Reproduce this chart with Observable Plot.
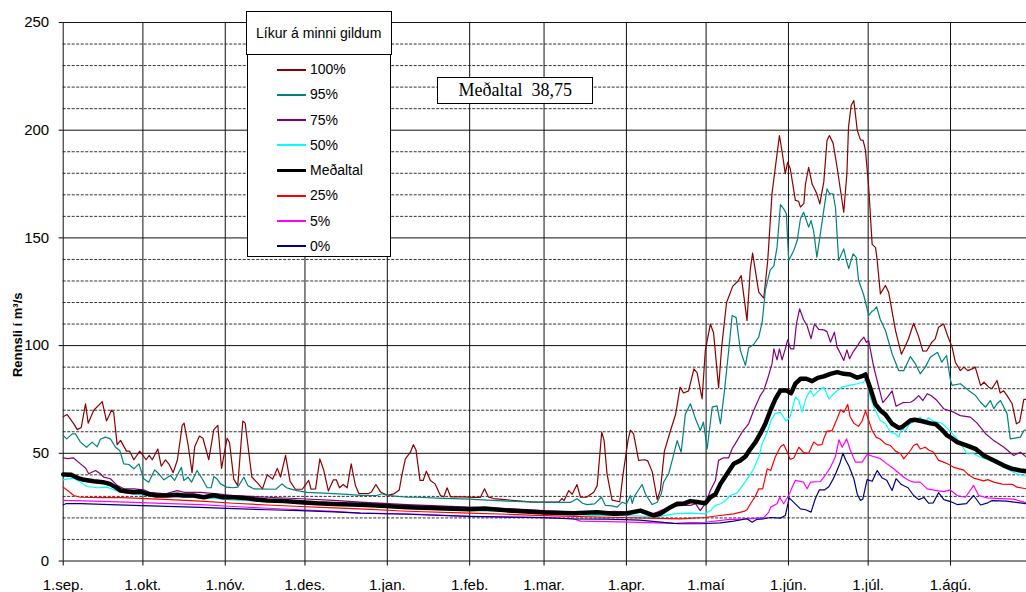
<!DOCTYPE html>
<html>
<head>
<meta charset="utf-8">
<script src="https://cdn.jsdelivr.net/npm/d3@7"></script>
<script src="https://cdn.jsdelivr.net/npm/@observablehq/plot@0.6"></script>
<style>
  html, body { margin: 0; padding: 0; background: #fff; }
  #wrap { position: relative; width: 1026px; height: 592px; overflow: hidden; }
  #legendTitle { position: absolute; left: 245.7px; top: 10.7px; width: 144px; height: 42.3px; border: 1px solid #000; background: #fff;
    font: 14px "Liberation Sans", Arial, sans-serif; display: flex; align-items: center; justify-content: center; box-sizing: content-box; }
  #legendBody { position: absolute; left: 246.7px; top: 55px; width: 142px; height: 200.7px; border: 1px solid #000; border-top: none; background: #fff; }
  .item { position: absolute; left: 0; height: 20px; font: 14px "Liberation Sans", Arial, sans-serif; }
  .item .sw { position: absolute; left: 29.3px; top: 10px; width: 29px; }
  .item .lb { position: absolute; left: 62.3px; top: 1.5px; white-space: nowrap; }
  #meanBox { position: absolute; left: 437.3px; top: 77.3px; width: 154px; height: 25px; border: 1px solid #000; background: #fff;
    font: 18px "Liberation Serif", "Times New Roman", serif; display: flex; align-items: center; justify-content: center; white-space: pre; }
</style>
</head>
<body>
<div id="wrap">
  <div id="chart"></div>
  <div id="legendTitle"></div>
  <div id="legendBody"></div>
  <div id="meanBox"></div>
</div>
<script>
// ---- data: [day since 1.sep, flow m3/s] ----
const p100 = [[0,67],[1.5,68],[3.8,64],[5.3,61],[6.8,62],[8.4,73],[9.4,64],[11.5,70],[14.7,74],[16.3,65],[18.2,70],[19,69],[20.3,54],[21.6,56],[23.8,51],[25,51],[26.6,47],[28.8,51],[31.2,47],[32.4,49],[33.5,47],[35.6,52],[36.9,44],[38.5,47],[39.8,45],[41.4,41],[43,47],[44.8,63],[45.5,64],[47,54],[48.5,41],[49.5,53],[51.3,58],[52.6,57],[54.8,47],[56.7,61],[58.2,63],[59.6,43],[61.7,57],[62.6,55],[64.2,38],[65.7,35],[67.6,65],[68.5,64],[71,39],[73.3,36],[75,33.5],[76.8,40],[78.8,38],[80.6,43],[81.8,39],[83.7,49],[85.4,37],[87.4,33.3],[90,33.3],[92.4,37.4],[93.3,33.3],[95,33.5],[96.6,47.4],[98.1,42],[99.8,32.5],[101.7,37.7],[102.8,37.7],[104,34],[105.4,35.5],[106.9,34],[108.4,45.1],[110,35],[111.3,31.3],[115,31.3],[116,32],[117.7,35.5],[119.5,32],[122,30.5],[124.5,31.2],[126.5,33],[127.5,40],[128.8,47.4],[130.7,50.5],[131.8,54],[132.8,51.5],[134.3,37.4],[135.5,37.4],[136.7,41.7],[138.2,37.4],[140,35.8],[142,30.4],[143.3,29.8],[144.5,34],[145.8,29.8],[150,29.8],[155,29.5],[157,29.5],[158.6,33.5],[160,29.8],[162,29],[170,28],[177,27.3],[186.5,27.3],[187.7,29],[188.5,28],[190.3,32.7],[191.6,31],[193.4,35.5],[194.7,29.6],[197,29.6],[199.7,31.9],[201,35],[202.7,59.8],[203.6,56],[204.7,40.5],[206.6,28.3],[209.5,27.5],[210.7,40],[212.6,56],[213.5,60.8],[214.7,59],[216.6,46.7],[218.9,47],[220,46.5],[221.7,41.5],[223.6,28.5],[224.8,33],[226.3,51],[228.6,60.6],[230.5,68],[232.2,80.7],[233.5,78],[235.4,79],[237.4,89.2],[238.6,87.5],[240.5,75.3],[241.7,97.7],[243.6,110],[244.8,106],[246.7,80.5],[247.9,100],[249.7,120],[252,127.5],[254,130],[255.2,132.5],[257.4,111.7],[258.6,135],[259.5,143],[261.8,124.8],[263.7,122],[265.2,139.5],[266.8,170.5],[268.7,189],[269.6,197.5],[270.6,190],[271.8,179.8],[272.7,185.1],[273.7,182],[275.6,167.4],[276.8,167],[277.5,164.3],[278.8,166],[279.4,175],[280.6,182.8],[281.9,175],[283.1,172],[283.8,170],[284.8,165.8],[286.3,176],[287.5,195.2],[288.4,197.5],[289.8,194],[291.3,182.8],[293.8,161.9],[295,180],[295.6,201.4],[296.6,211.5],[297.6,213.8],[298.9,199.9],[300.1,195.5],[301.1,195.3],[302,190.6],[303.2,173.5],[304.5,147],[305.8,145.5],[306.4,139.5],[307.6,124],[309.5,127.9],[310.7,124.8],[313.3,107],[315.5,96],[316.7,99],[318.2,103.2],[320.1,110.4],[321.9,104.5],[323.6,97.4],[325,97.5],[327,101.6],[328.2,103],[329.5,108.5],[331.4,110],[332.9,104.6],[334.6,99.3],[335.8,92.3],[337.7,88.4],[339,90],[340.5,88.4],[342.1,89.2],[343.3,90],[345.3,81.5],[346.6,83],[348.4,80.7],[349.6,80],[351.5,83.8],[352.7,78],[354,79],[355.3,76.8],[357.2,73],[358.8,63.7],[360,64.5],[361.6,75],[362.6,75]];
const p95 = [[0,58.3],[1.3,56.7],[3.4,59],[4.6,59],[6.5,55.2],[8.8,52.8],[10.9,55.2],[12.8,53],[14,56.5],[15.9,57.5],[17.8,56.7],[19.7,52.8],[21.3,51.3],[22.8,45.1],[24.7,44.8],[26.6,42.8],[28.5,45.1],[30.3,38.2],[32.2,36.6],[34.4,42.3],[35.6,41],[37.9,37.7],[40.4,39.7],[41.9,37.4],[44.5,43.5],[45.4,37.4],[47,38.9],[48.3,36.6],[50.4,42],[52.3,38.2],[54.2,34],[55.7,34],[56.7,39.2],[57.8,38.2],[59.2,35.8],[61.5,34.3],[63.8,34],[65.7,34.3],[68,38.9],[69.5,35],[71.7,33.5],[80,33.3],[82.4,35.8],[84,34],[85.5,33.5],[88,32.7],[91.8,31.9],[100,31.4],[106.9,30.9],[112,30.5],[118,30.4],[120,31.2],[122,30.5],[129.5,29.6],[133.2,29.6],[141,29.2],[152.8,28.7],[158,28.4],[167.1,27.8],[181,27.2],[190.9,27.2],[193.4,28.9],[195.5,26.8],[197.2,26.2],[200,26.5],[202.6,29.6],[204.1,25.8],[206.5,25.6],[208.5,25],[210.4,27.3],[212,26.5],[213.5,30.4],[214.2,26.8],[215,30],[216.3,32.5],[217.9,35.5],[219.2,31],[221.7,26.2],[223.6,27.3],[225.2,31.5],[226,36.6],[227.9,40.5],[229.5,48],[231.1,55.9],[232.6,50.5],[234.2,68.3],[236.1,73],[238,66],[239.8,60.6],[241,64.5],[242.4,52.1],[244.3,71.4],[246.1,72],[247.4,63.7],[248.9,79],[250.5,97.7],[251.8,114],[253.3,113],[254.9,97.7],[256.8,90.8],[258,99],[259.9,100.5],[261.8,103.9],[263.1,110.9],[264.3,125.6],[266.1,135],[267.5,137],[268.7,145.7],[270,165.5],[271.2,163.5],[272.2,161.2],[273.1,139.5],[275,144.2],[276.3,148.8],[277.5,158.9],[278.7,161.9],[280.6,155],[281.5,158],[282.5,153],[283.7,141],[285,151.9],[286.3,163],[287.5,172.8],[288.5,170.5],[289.8,170.5],[290.7,164],[291.9,139.5],[293.8,144.9],[294.8,139.5],[295.7,135.7],[297.3,142.6],[298.5,141],[299.4,130.2],[301.3,123.6],[303.2,114],[304.5,116],[305.1,116.3],[306.2,118],[307.6,112],[309.5,107],[312,96.2],[314.5,88.4],[316.4,88.4],[318.9,94.9],[320.8,91.5],[322.6,86.9],[324.5,90],[326.4,94.6],[329.1,96.9],[330.7,92.3],[332.5,95.4],[334,83.8],[334.6,81.5],[337.7,82.3],[340.8,79.2],[343.3,77],[345.3,73.7],[347.2,71.4],[349,74.5],[350.3,70.7],[351.5,73],[352.8,74.5],[355.3,68.3],[356.5,56.7],[360.3,57.5],[361.6,60.6],[362.6,61]];
const p75 = [[0,47.9],[1.9,47.5],[3.8,47.9],[6.5,45.1],[8.4,43.2],[9.6,40.5],[12.2,42],[14,40.5],[15.3,38.9],[17.8,38.2],[20.3,35.1],[22.8,33.5],[26.6,33.5],[30.3,33],[32.4,31.9],[38.6,31.2],[42.9,32.7],[45.4,31.9],[51.7,31.9],[58,31.2],[64.2,30.4],[76.8,29.6],[89.3,28.9],[101.9,28.1],[111.9,27.3],[129.5,26.2],[152.8,25],[167,24.3],[181,23.4],[192,22.7],[200,22.3],[204,22.7],[207.2,23.1],[212.3,22.7],[217.3,22.7],[221.7,21.9],[223.6,22.7],[228.6,25.3],[233.6,25.8],[236.1,25.8],[238,26.6],[239.8,23.4],[241.7,26.6],[243.6,32.7],[245.5,37.4],[246.7,46.7],[248.6,47.9],[250.5,47.9],[251.8,52.1],[253,54.5],[255.5,59.8],[258,63.7],[259.9,69.9],[262.4,76.8],[263.7,79.2],[265,84],[266.8,91.5],[267.5,98.5],[268.7,93.4],[269.6,98.5],[270.6,93.4],[271.8,98.5],[272.7,102.7],[273.8,98.5],[275,98.5],[276,110.1],[277.2,117.1],[278.7,112],[280,109.3],[281.5,103.2],[282.8,110.1],[284.4,107.5],[286.3,107.3],[287.5,106.5],[288.8,101.6],[290.3,106.2],[291.3,99.3],[292.6,96.2],[293.8,93.1],[295,98],[296,93.9],[297.3,97],[299,100],[300.3,102.5],[301.4,103.9],[302.3,101.5],[303.2,102.3],[305.1,90],[307,80.7],[308.5,73.5],[310.2,76],[312,79],[313.5,71.8],[316,73.5],[318.9,73.7],[320.1,74.5],[322,76.8],[323.6,74.5],[325.2,77.6],[326.7,76.8],[328.9,74.5],[331.4,70.7],[335.2,69.1],[337.7,67.5],[341.5,66.8],[344,64],[347.2,59.1],[350.3,55.9],[354.1,52.8],[357.8,49],[360.3,50.5],[362.6,48.2]];
const p50 = [[0,37.7],[2.5,38.2],[3.9,38.5],[6.5,36.6],[9,34.6],[12.8,34],[16.5,34.3],[19.7,32.7],[24.1,31.5],[29,30.8],[34.1,30.4],[39,30],[46.7,29.6],[54,29.3],[64.3,28.3],[76.8,27.7],[84.3,27.3],[89.3,26.8],[101.9,26.2],[111.9,25.8],[129.5,24.7],[152.8,23.4],[181,22.5],[192,22],[198.5,21.1],[212.3,21.1],[223.6,20.5],[229.8,21.9],[236.1,22.2],[241.7,21.9],[243.6,23.4],[245.5,25.8],[247.4,26.6],[249.3,28.1],[251.1,30.4],[253.6,31.5],[256.2,35.8],[258,38.9],[259.9,42.8],[261.8,48.2],[263.1,54.4],[265,59.8],[266.5,65.5],[268.1,68.5],[270,69],[272,65],[273.5,66.5],[275.6,76],[276.9,74.5],[278.1,69.1],[279.7,76],[281.3,79.2],[282.5,76.5],[284.4,79.2],[286.3,80.7],[288.2,75.3],[290.3,78],[293,80.7],[296,81.5],[298.9,82.3],[301.2,83],[302.4,85.3],[303.8,76],[305.7,69.9],[307.6,65.2],[309.5,63.7],[311.4,59.8],[313.3,59],[314.5,57.5],[315.5,61.4],[317.1,60.6],[318.6,63.7],[320.6,65],[322.6,66.8],[324,64.5],[325.8,66.5],[327.6,64.8],[330.7,64],[334,60.1],[336.5,56.7],[338.3,53.5],[340.2,49.8],[342.7,49.8],[345.3,48.2],[349,46.7],[352.7,44.3],[356.4,42],[359,40.5],[361.6,39.7],[362.6,39.5]];
const pMean = [[0,40.2],[3,40],[5.3,38.6],[7.8,37.7],[11.5,37],[15,36.6],[17.5,35.8],[19.7,34.3],[21.6,32.7],[24,32.3],[26.6,31.9],[29,32.2],[31.6,31.2],[35,30.4],[39.1,30.4],[42.9,30.8],[45.4,30.4],[49,30.4],[52.9,29.6],[56.7,30.5],[60,29.6],[64.2,29.6],[68,29.3],[72.5,28.5],[76.8,28.1],[83,27.8],[89.3,27.3],[95.6,26.8],[101.9,26.5],[111.9,26.1],[118,25.8],[129.5,25],[141,24.5],[152.8,24],[158.6,24.4],[167.1,23.5],[181,22.5],[192.2,22.2],[201,22.6],[207.2,21.9],[212.3,22.2],[217.3,23.4],[222.4,21.1],[224.8,22],[228.6,25],[231.1,26.6],[233.6,26.6],[236.1,27.8],[238.6,27.4],[241.7,26.8],[243.6,29.6],[245.5,31],[247.4,35.8],[249.9,40.5],[252.4,45.1],[254.9,46.7],[256.8,48.5],[258.7,52.1],[260.6,55.2],[262.4,59.1],[264.3,63.7],[266.2,69.9],[268.1,75.3],[270,79.2],[272.2,79.2],[274,77.9],[275.6,82.3],[277.5,84.6],[279.7,84.6],[281.9,83.5],[284,85],[286.3,85.7],[288.8,86.9],[291.3,87.7],[293.8,86.9],[296.3,86.6],[298.9,85.1],[300.7,85.8],[302,86.6],[303.8,80.2],[305.7,72.8],[307.6,69.9],[309.5,68],[312,63.7],[314.5,61.8],[315.8,62.2],[318.9,65.2],[320.5,65.6],[323,65],[326.4,63.9],[328.5,63.5],[330.7,61],[332.7,58.3],[334.5,57],[336.5,55.2],[340.2,53.6],[343.4,52.1],[346.5,49],[350.3,46.7],[354.1,44.3],[357.2,42.8],[360.3,42],[362.6,41.7]];
const p25 = [[0,34.3],[1.9,32.5],[4,30.4],[6.5,29.6],[15,29.4],[22,29.4],[29.1,29.1],[40,28.5],[51.7,27.8],[64.2,26.8],[76.8,26],[89.3,25.3],[101.9,24.7],[111.9,24.2],[129.5,23.1],[152.8,22.2],[167,21.7],[181,21.1],[204.7,20.3],[220,19.9],[232.3,19.6],[241.7,20.2],[246.5,21],[252.4,21.9],[256.2,23],[257.4,23.8],[258.7,26.6],[260.5,30],[261.8,33.5],[263.3,33.5],[265,42.8],[266.3,42],[268.1,48.5],[270,53],[271.2,54.1],[272.4,51],[273.6,47.2],[275,47.8],[276.9,52.8],[278.6,50.5],[280.6,50],[282.5,55.2],[284,53.8],[285.6,54],[286.5,57.5],[287.5,60.3],[289.4,60.5],[291.3,66],[292.6,70.2],[293.8,69],[295.3,72.7],[296.2,67],[297.6,64],[299.4,62.5],[300.7,65],[302,69.7],[303,66],[304.5,60.6],[306,57.5],[307.6,56.5],[309.5,54.4],[311.4,53.6],[313.3,51],[315.2,49.8],[316.4,47.4],[318.9,51.3],[320.1,53.6],[321.4,54.4],[322.6,52],[324.5,52.8],[325.8,51.5],[327.6,50.5],[329.5,46.7],[331.4,45.9],[333,45],[335.2,43.5],[339,42.2],[340.8,40],[342.7,38.5],[346.5,37.2],[348,37.8],[350.3,36.6],[353.4,35.7],[357.2,35.6],[359,34.3],[362.6,33.5]];
const p5 = [[0,28.1],[15,27.7],[26.6,27.2],[40,26.6],[51.7,26.2],[64.2,25.3],[76.8,24.5],[89.3,23.8],[101.9,23],[111.9,22.2],[129.5,21.9],[152.8,20.7],[181,20.1],[192,19.7],[194.7,18.5],[210,18.2],[229.8,17.5],[236,17.8],[241.7,18],[250,19.2],[257.4,19.6],[263.7,20.1],[265.6,22.7],[266.3,25],[268.7,26.6],[269.7,29.6],[271.2,26.6],[273.1,30.4],[274.4,34.3],[275.6,37.4],[278.7,36.6],[280,33.5],[281.3,36.6],[285,36.9],[286.8,39.7],[288.8,43.5],[290.7,48.5],[292,56.3],[293.2,52.8],[294.9,56.7],[296.3,51.3],[298.2,45.9],[300.7,45.9],[302.6,49.4],[305,48.5],[307.6,47.5],[310.1,45.1],[312.6,42.8],[314.4,41],[316.4,38.9],[318.2,37.5],[320.1,36.6],[322.6,36.6],[325.2,33.5],[328.9,32.7],[331.4,32.2],[333.9,33],[336.5,30.4],[339.6,29.6],[342.7,35.1],[344.6,30.4],[347.8,29.3],[352.8,29],[357.8,28.7],[361.6,27.3],[362.6,27]];
const p0 = [[0,26.1],[1,26.6],[6.5,26.6],[15,26.3],[26.6,25.8],[39,25.4],[51.7,24.9],[64.2,24.3],[76.8,23.8],[89.3,23.4],[101.9,22.8],[111.9,22.2],[129.5,21.7],[152.8,20.7],[181,20.1],[192,19.5],[204.7,19.4],[217,19],[229.8,17.5],[232.3,17.3],[240,17.3],[247.4,17.7],[252.4,18.5],[257.4,19.6],[259.3,18],[261,19.3],[263.7,19.6],[266.3,20.2],[270,19.9],[271.8,21.1],[273.3,29.3],[275,27.2],[277.5,24.2],[279.5,23.8],[281.5,22.7],[283.1,28.9],[284.6,33],[286.5,33],[288.2,34.5],[289.8,38],[291,41.2],[292.4,45.5],[293.5,50],[294.5,47],[295.8,44],[297.6,38.2],[298.9,31],[300.1,28.1],[301,28.8],[302.6,37.8],[304.5,37],[306.4,42],[308.3,38.5],[310,37.5],[312,32.7],[313.5,38.2],[315.5,35.5],[318,34],[320.1,30.4],[322,28.5],[324,29.5],[325.8,26.8],[327.5,27],[329.5,31.7],[331.5,28.5],[334,27.6],[336.5,26.2],[340,26.6],[342.7,30.4],[345.3,26],[348,27],[349.5,28],[355,27.8],[362.6,26.6]];

const seriesNames = ["100%", "95%", "75%", "50%", "Meðaltal", "25%", "5%", "0%"];
const seriesData = [p100, p95, p75, p50, pMean, p25, p5, p0];
const seriesColors = ["#8B0000", "#008080", "#800080", "#00FFFF", "#000000", "#FF0000", "#FF00FF", "#000080"];

const monthDays = [0, 30, 61, 91, 122, 153, 181, 212, 242, 273, 303, 334];
const monthLabels = ["1.sep.", "1.okt.", "1.nóv.", "1.des.", "1.jan.", "1.feb.", "1.mar.", "1.apr.", "1.maí", "1.jún.", "1.júl.", "1.ágú."];
const yMajor = [0, 50, 100, 150, 200, 250];
const yMinor = [10, 20, 30, 40, 60, 70, 80, 90, 110, 120, 130, 140, 160, 170, 180, 190, 210, 220, 230, 240];
const legendTitle = "Líkur á minni gildum";
const yTitle = "Rennsli í m³/s";
const meanValue = 38.75;

// ---- chart ----
const labelByDay = new Map(monthDays.map((d, i) => [d, monthLabels[i]]));
const lineMarks = seriesData.map((data, i) => Plot.line(data, {
  x: d => d[0], y: d => d[1],
  stroke: seriesColors[i],
  strokeWidth: seriesNames[i] === "Meðaltal" ? 4.5 : 1.2,
  strokeLinejoin: "round", curve: "linear"
}));

const chart = Plot.plot({
  width: 1026, height: 592,
  marginLeft: 62.7, marginRight: 0, marginTop: 22, marginBottom: 31.5,
  style: { fontFamily: "'Liberation Sans', Arial, sans-serif", fontSize: "15px", background: "#fff", color: "#000", overflow: "hidden" },
  x: { domain: [0, 362.6], ticks: monthDays, tickFormat: d => labelByDay.get(d), tickSize: 5, tickPadding: 13, label: null },
  y: { domain: [0, 250], ticks: yMajor, tickSize: 4, tickPadding: 10, label: null },
  marks: [
    Plot.ruleY(yMinor, { stroke: "#333", strokeDasharray: "3,1.5", strokeWidth: 1 }),
    Plot.ruleY(yMajor, { stroke: "#111", strokeWidth: 1 }),
    Plot.ruleX(monthDays, { stroke: "#111", strokeWidth: 1 }),
    ...lineMarks,
    Plot.text([yTitle], { text: d => d, frameAnchor: "left", textAnchor: "middle", rotate: -90, dx: -45, dy: 43, fontWeight: "bold", fontSize: 13 })
  ]
});
document.getElementById("chart").appendChild(chart);

// ---- legend (HTML, built from the series arrays) ----
document.getElementById("legendTitle").textContent = legendTitle;
const body = document.getElementById("legendBody");
seriesNames.forEach((name, i) => {
  const row = document.createElement("div");
  row.className = "item";
  row.style.top = (14.7 + i * 25.23 - 10) + "px";
  row.style.width = "140px";
  const sw = document.createElement("div");
  sw.className = "sw";
  const w = name === "Meðaltal" ? 3 : 2;
  sw.style.height = w + "px";
  sw.style.marginTop = (-w / 2) + "px";
  sw.style.background = seriesColors[i];
  const lb = document.createElement("div");
  lb.className = "lb";
  lb.textContent = name;
  row.appendChild(sw); row.appendChild(lb);
  body.appendChild(row);
});

document.getElementById("meanBox").textContent = "Meðaltal  " + meanValue.toFixed(2).replace(".", ",");
</script>
</body>
</html>
